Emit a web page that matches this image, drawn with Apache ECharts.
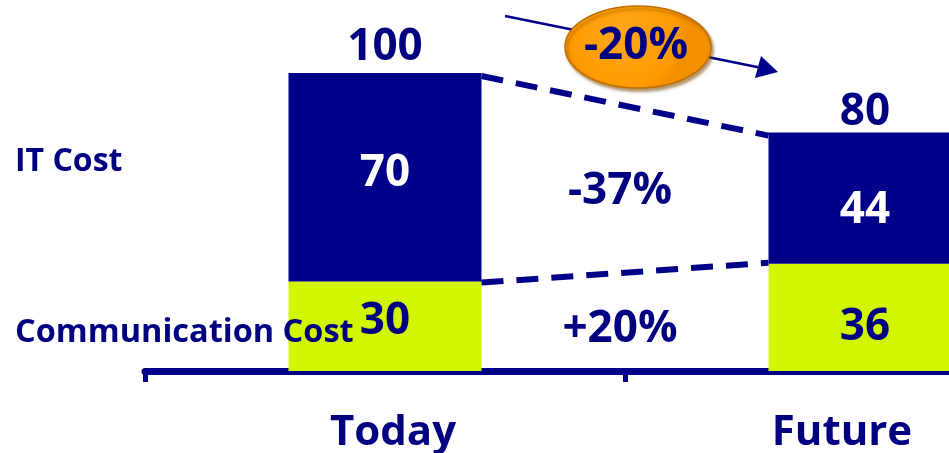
<!DOCTYPE html>
<html>
<head>
<meta charset="utf-8">
<script src="https://cdn.jsdelivr.net/npm/echarts@6/dist/echarts.min.js"></script>
<style>
  html, body { margin: 0; padding: 0; background: #ffffff; }
  #chart { width: 949px; height: 453px; }
</style>
</head>
<body>
<div id="chart"></div>
<script>
// Cost structure: today vs. future
const categories = ['Today', 'Future'];
const communicationCost = [30, 36];
const itCost = [70, 44];
const totals = [100, 80];
const itChange = '-37%';
const communicationChange = '+20%';
const totalChange = '-20%';
const rowLabels = ['IT Cost', 'Communication Cost'];

const NAVY = '#000088';
const TEXT = '#000080';
const LIME = '#d2f500';
const FONT = '"Open Sans", "DejaVu Sans", sans-serif';
const BAR_WIDTH = 193;
const NUM_SIZE = 44;

// vertical nudges for the in-bar value labels (per category)
const commLabelShift = [-5, 10];
const itLabelShift = [-4, 12];
const totalLabelShift = [-4, 2];

const numLabel = (color) => ({
  show: true, position: 'inside',
  color: color, fontFamily: FONT, fontWeight: 'bold', fontSize: NUM_SIZE
});

const chart = echarts.init(document.getElementById('chart'), null, { renderer: 'canvas' });

chart.setOption({
  animation: false,
  backgroundColor: '#ffffff',
  grid: {
    left: 145, top: 73, width: 960, height: 298,
    containLabel: false, outerBoundsMode: 'none'
  },
  xAxis: {
    type: 'category',
    data: [
      { value: categories[0], textStyle: { padding: [0, 0, 0, 16] } },
      { value: categories[1], textStyle: { padding: [0, 46, 0, 0] } }
    ],
    axisLine: { show: true, lineStyle: { color: NAVY, width: 7 } },
    axisTick: { show: true, length: 11, lineStyle: { color: NAVY, width: 5 } },
    axisLabel: {
      color: TEXT, fontFamily: FONT, fontWeight: 'bold', fontSize: 42, margin: 41
    }
  },
  yAxis: { type: 'value', min: 0, max: 100, show: false },
  series: [
    {
      name: 'Communication Cost',
      type: 'bar',
      stack: 'cost',
      barWidth: BAR_WIDTH,
      data: communicationCost.map((v, i) => ({ value: v, label: { offset: [0, commLabelShift[i]] } })),
      itemStyle: { color: LIME },
      label: numLabel(TEXT),
      z: 2
    },
    {
      name: 'IT Cost',
      type: 'bar',
      stack: 'cost',
      barWidth: BAR_WIDTH,
      data: itCost.map((v, i) => ({ value: v, label: { offset: [0, itLabelShift[i]] } })),
      itemStyle: { color: NAVY },
      label: numLabel('#ffffff'),
      z: 2
    },
    {
      name: 'Total',
      type: 'scatter',
      data: totals.map((v, i) => ({ value: v, label: { offset: [0, totalLabelShift[i]] } })),
      symbolSize: 0,
      itemStyle: { opacity: 1 },
      label: {
        show: true, position: 'top', distance: 0,
        color: TEXT, fontFamily: FONT, fontWeight: 'bold', fontSize: NUM_SIZE
      },
      z: 3
    }
  ]
});

// Connectors, change labels and the overall change badge
function drawAnnotations() {
  const px = (i, v) => chart.convertToPixel({ xAxisIndex: 0, yAxisIndex: 0 }, [i, v]);
  const half = BAR_WIDTH / 2;

  const topA = px(0, totals[0]);
  const topB = px(1, totals[1]);
  const splitA = px(0, communicationCost[0]);
  const splitB = px(1, communicationCost[1]);

  const dash = { stroke: NAVY, lineWidth: 6, lineDash: [22, 13] };
  const midX = (topA[0] + topB[0]) / 2 - 5;

  const itMidA = px(0, communicationCost[0] + itCost[0] / 2)[1];
  const itMidB = px(1, communicationCost[1] + itCost[1] / 2)[1];
  const comMidA = px(0, communicationCost[0] / 2)[1];
  const comMidB = px(1, communicationCost[1] / 2)[1];

  const textStyle = (txt, size, extra) => Object.assign({
    text: txt, fill: TEXT, font: 'bold ' + size + 'px ' + FONT
  }, extra || {});

  chart.setOption({
    graphic: [
      {
        type: 'line', z: 5,
        shape: { x1: topA[0] + half, y1: topA[1] + 3, x2: topB[0] - half, y2: topB[1] + 3 },
        style: dash
      },
      {
        type: 'line', z: 5,
        shape: { x1: splitA[0] + half, y1: splitA[1] + 1, x2: splitB[0] - half, y2: splitB[1] - 1 },
        style: dash
      },
      {
        type: 'text', z: 6, x: midX, y: (itMidA + itMidB) / 2 + 4,
        style: textStyle(itChange, NUM_SIZE, { textAlign: 'center', textVerticalAlign: 'middle' })
      },
      {
        type: 'text', z: 6, x: midX, y: (comMidA + comMidB) / 2 + 8,
        style: textStyle(communicationChange, NUM_SIZE, { textAlign: 'center', textVerticalAlign: 'middle' })
      },
      {
        type: 'text', z: 6, left: 15, top: 146,
        style: textStyle(rowLabels[0], 32)
      },
      {
        type: 'text', z: 6, left: 15, top: 316,
        style: textStyle(rowLabels[1], 32.5)
      },
      // trend arrow behind the badge
      {
        type: 'line', z: 7,
        shape: { x1: 505, y1: 16, x2: 762, y2: 68 },
        style: { stroke: NAVY, lineWidth: 2.5 }
      },
      {
        type: 'polygon', z: 7,
        shape: { points: [[778, 72], [755, 78], [761, 56]] },
        style: { fill: NAVY }
      },
      // badge
      {
        type: 'ellipse', z: 8,
        shape: { cx: 638, cy: 47, rx: 73, ry: 41 },
        style: {
          fill: new echarts.graphic.RadialGradient(0.4, 0.35, 0.75, [
            { offset: 0, color: '#ffa81a' },
            { offset: 0.85, color: '#ff9a00' },
            { offset: 1, color: '#f29000' }
          ]),
          stroke: '#c07000', lineWidth: 1.5,
          shadowColor: 'rgba(120,70,0,0.55)', shadowBlur: 3, shadowOffsetX: 2, shadowOffsetY: 3
        }
      },
      {
        type: 'text', z: 9, x: 636, y: 46,
        style: textStyle(totalChange, NUM_SIZE, { textAlign: 'center', textVerticalAlign: 'middle' })
      }
    ]
  });
}
drawAnnotations();
</script>
</body>
</html>
